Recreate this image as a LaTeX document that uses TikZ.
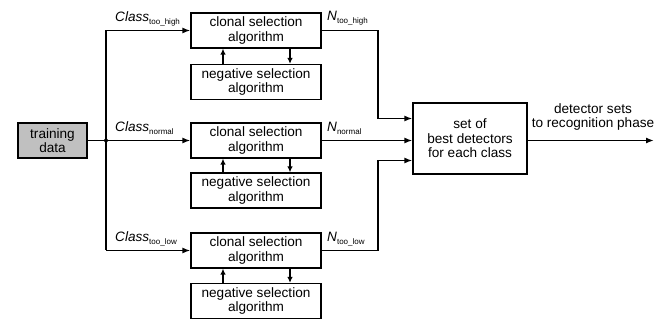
\documentclass[tikz,border=0pt]{standalone}
\usepackage{fontspec}
\setmainfont{Liberation Sans}
\usetikzlibrary{arrows.meta}
\tikzset{
  box/.style={draw=black, line width=1.2pt, fill=white, minimum width=130pt, minimum height=35pt, align=center, inner sep=1pt, font=\fontsize{13.6}{14.5}\selectfont},
  conn/.style={line width=1.6pt, -{Latex[length=8pt,width=6pt]}},
  plain/.style={line width=1.6pt},
  lbl/.style={font=\fontsize{13.6}{14.5}\selectfont, inner sep=0pt}
}
\newcommand{\subt}[1]{\textsubscript{\fontsize{8}{9}\selectfont #1}}
\begin{document}
\begin{tikzpicture}[x=1pt,y=-1pt]
\useasboundingbox (0,0) rectangle (669,320);
% training data
\node[box, fill={rgb,255:red,192;green,192;blue,192}, minimum width=69pt, minimum height=35pt] (train) at (52.5,140.5) {training\\data};
% clonal / negative boxes
\node[box] (c1) at (256,30.5) {clonal selection\\algorithm};
\node[box] (n1) at (256,82) {negative selection\\algorithm};
\node[box] (c2) at (256,140.5) {clonal selection\\algorithm};
\node[box] (n2) at (256,190.5) {negative selection\\algorithm};
\node[box] (c3) at (256,250.5) {clonal selection\\algorithm};
\node[box] (n3) at (256,301) {negative selection\\algorithm};
% best detectors
\node[box, minimum width=114pt, minimum height=71pt] (best) at (470,138.5) {set of\\best detectors\\for each class};
% junction
\coordinate (j) at (106,140.5);
\coordinate (jt) at (106,30.5);
\coordinate (jb) at (106,250.5);
\fill (j) circle (2pt);
\draw[plain] (train.east) -- (j);
\draw[plain] (jt) -- (jb);
\draw[conn] (jt) -- (c1.west);
\draw[conn] (j) -- (c2.west);
\draw[conn] (jb) -- (c3.west);
% class labels
\node[lbl, anchor=base west] (l1) at (115,22) {\textit{Class}\subt{too\_high}};
\node[lbl, anchor=base west] (l2) at (115,132) {\textit{Class}\subt{normal}};
\node[lbl, anchor=base west] (l3) at (115,242) {\textit{Class}\subt{too\_low}};
% up/down arrows between clonal and negative
\foreach \c/\n in {c1/n1,c2/n2,c3/n3}{
  \draw[conn,-{Latex[length=6pt,width=5.5pt]}] ([xshift=-33pt]\n.north) -- ([xshift=-33pt]\c.south);
  \draw[conn,-{Latex[length=6pt,width=5.5pt]}] ([xshift=34pt]\c.south) -- ([xshift=34pt]\n.north);
}
% outputs to best
\coordinate (bt) at (378,118.5);
\coordinate (bb) at (378,160.5);
\draw[conn] (c1.east) -| (bt) -- (best.west |- bt);
\draw[conn] (c2.east) -- (best.west |- c2.east);
\draw[conn] (c3.east) -| (bb) -- (best.west |- bb);
% N labels
\node[lbl, anchor=base west] (m1) at (327,21) {\textit{N}\subt{too\_high}};
\node[lbl, anchor=base west] (m2) at (327,132) {\textit{N}\subt{normal}};
\node[lbl, anchor=base west] (m3) at (327,242) {\textit{N}\subt{too\_low}};
% output
\coordinate (out) at (654,140.5);
\draw[conn] (best.east |- out) -- (out);
\node[lbl, align=center, anchor=south] (ol) at (593,131) {detector sets\\to recognition phase};
\end{tikzpicture}
\end{document}
